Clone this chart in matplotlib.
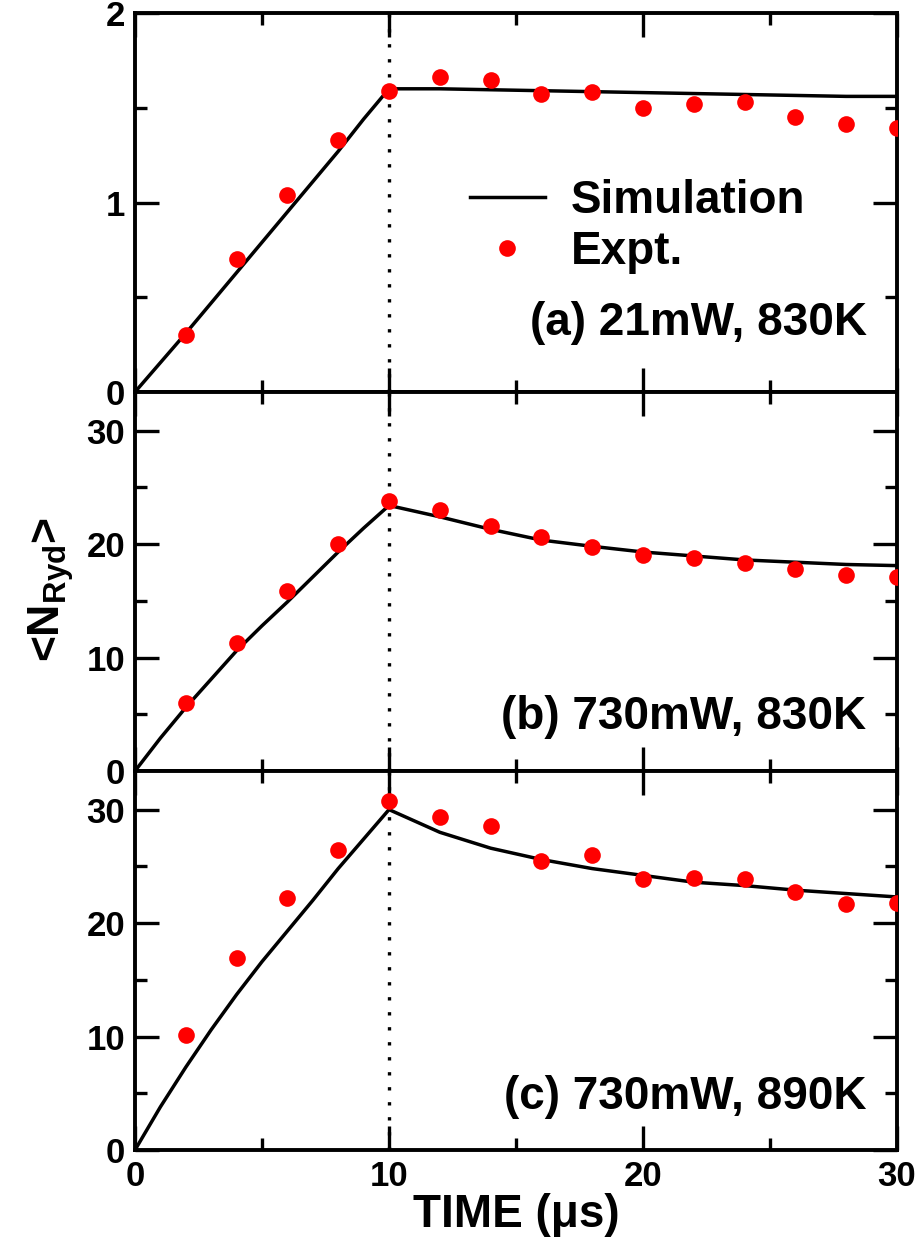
import matplotlib
matplotlib.use('Agg')
import matplotlib.pyplot as plt
from matplotlib.ticker import MultipleLocator

plt.rcParams['font.family'] = ['Liberation Sans', 'DejaVu Sans']
plt.rcParams['font.weight'] = 'bold'
plt.rcParams['mathtext.fontset'] = 'custom'
plt.rcParams['mathtext.rm'] = 'Liberation Sans:bold'
plt.rcParams['mathtext.it'] = 'Liberation Sans:bold'
plt.rcParams['mathtext.bf'] = 'Liberation Sans:bold'

# experiment points (every 2 us)
t_exp = [2, 4, 6, 8, 10, 12, 14, 16, 18, 20, 22, 24, 26, 28, 30]
exp_a = [0.30, 0.70, 1.04, 1.33, 1.59, 1.66, 1.645, 1.57, 1.585, 1.50, 1.52, 1.53, 1.45, 1.415, 1.395]
exp_b = [5.95, 11.25, 15.9, 20.0, 23.8, 23.0, 21.6, 20.6, 19.75, 19.0, 18.75, 18.3, 17.8, 17.3, 17.1]
exp_c = [10.15, 16.95, 22.25, 26.45, 30.8, 29.35, 28.55, 25.45, 26.0, 23.9, 23.95, 23.9, 22.7, 21.7, 21.75]

# simulation curves
t_sim = [0, 1, 2, 3, 4, 5, 6, 7, 8, 9, 10, 12, 14, 16, 18, 20, 22, 24, 26, 28, 30]
sim_a = [0, 0.155, 0.31, 0.47, 0.63, 0.79, 0.95, 1.11, 1.27, 1.44, 1.60,
         1.60, 1.595, 1.59, 1.585, 1.58, 1.575, 1.57, 1.565, 1.56, 1.56]
sim_b = [0, 2.9, 5.6, 8.1, 10.6, 12.8, 14.9, 17.1, 19.3, 21.4, 23.4,
         22.4, 21.3, 20.35, 19.8, 19.3, 18.95, 18.6, 18.4, 18.2, 18.1]
sim_c = [0, 3.8, 7.3, 10.6, 13.7, 16.6, 19.3, 22.0, 24.8, 27.4, 30.0,
         28.0, 26.6, 25.6, 24.8, 24.2, 23.6, 23.3, 22.9, 22.6, 22.3]

labels = ['(a) 21mW, 830K', '(b) 730mW, 830K', '(c) 730mW, 890K']
ylims = [(0, 2), (0, 33.4), (0, 33.4)]
label_y = [0.182, 0.142, 0.14]

fig = plt.figure(figsize=(9.2, 12.53), dpi=100)
left, width = 135 / 920, 762 / 920
h = 379 / 1253
bottom0 = 1 - 1150 / 1253
axes = []
for i in range(3):
    ax = fig.add_axes([left, bottom0 + (2 - i) * h, width, h])
    axes.append(ax)

exps = [exp_a, exp_b, exp_c]
sims = [sim_a, sim_b, sim_c]
for i, ax in enumerate(axes):
    ax.axvline(10, color='black', ls=(0, (1, 3.5)), lw=2.4, zorder=1)
    ax.plot(t_sim, sims[i], '-', color='black', lw=2.5, label='Simulation', zorder=2)
    ax.plot(t_exp, exps[i], 'o', color='#ff0000', ms=12, mec='none', label='Expt.', zorder=3)
    ax.set_xlim(0, 30)
    ax.set_ylim(*ylims[i])
    ax.xaxis.set_major_locator(MultipleLocator(10))
    ax.xaxis.set_minor_locator(MultipleLocator(5))
    if i == 0:
        ax.yaxis.set_major_locator(MultipleLocator(1))
        ax.yaxis.set_minor_locator(MultipleLocator(0.5))
    else:
        ax.yaxis.set_major_locator(MultipleLocator(10))
        ax.yaxis.set_minor_locator(MultipleLocator(5))
    ax.tick_params(which='both', direction='in', top=True, right=True, width=2.4,
                   labelsize=25, pad=7)
    ax.tick_params(which='major', length=17)
    ax.tick_params(which='minor', length=8.5)
    for sp in ax.spines.values():
        sp.set_linewidth(2.8)
    if i < 2:
        ax.tick_params(labelbottom=False)
    ax.text(0.96, label_y[i], labels[i], transform=ax.transAxes, ha='right', va='center',
            fontsize=33, fontweight='bold')

leg = axes[0].legend(loc='upper left', bbox_to_anchor=(0.415, 0.61), frameon=False,
                     fontsize=33, handlelength=1.65, handletextpad=0.55, labelspacing=0.16,
                     borderaxespad=0)

axes[2].set_xlabel('TIME (\u03bcs)', fontsize=33, fontweight='bold', labelpad=0)
fig.text(0.055, 1 - 590 / 1253, r'<N$_{Ryd}$>', rotation=90, ha='center', va='center',
         fontsize=32, fontweight='bold')

plt.savefig('out.png', dpi=100)
